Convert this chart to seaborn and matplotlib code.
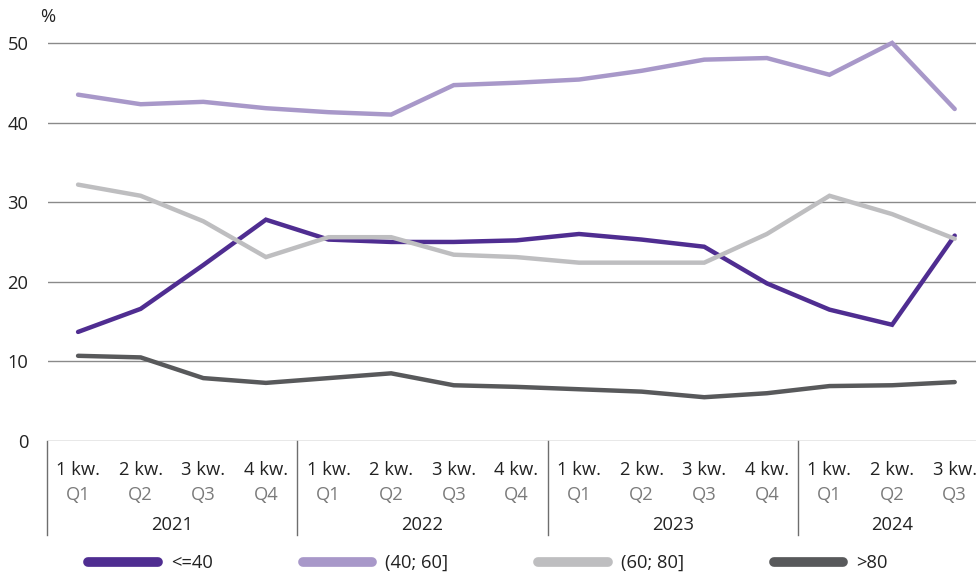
import pandas as pd
import seaborn as sns
import matplotlib.pyplot as plt

# quarters 2021 Q1 .. 2024 Q3
years = ["2021", "2022", "2023", "2024"]
quarters_pl = ["1 kw.", "2 kw.", "3 kw.", "4 kw."]
quarters_en = ["Q1", "Q2", "Q3", "Q4"]
n_per_year = [4, 4, 4, 3]

series_names = ["<=40", "(40; 60]", "(60; 80]", ">80"]
le_40 = [13.7, 16.6, 22.1, 27.8, 25.3, 25.0, 25.0, 25.2, 26.0, 25.3, 24.4, 19.8, 16.5, 14.6, 25.8]
r40_60 = [43.5, 42.3, 42.6, 41.8, 41.3, 41.0, 44.7, 45.0, 45.4, 46.5, 47.9, 48.1, 46.0, 50.0, 41.7]
r60_80 = [32.2, 30.8, 27.6, 23.1, 25.6, 25.6, 23.4, 23.1, 22.4, 22.4, 22.4, 26.0, 30.8, 28.5, 25.4]
gt_80 = [10.7, 10.5, 7.9, 7.3, 7.9, 8.5, 7.0, 6.8, 6.5, 6.2, 5.5, 6.0, 6.9, 7.0, 7.4]

colors = ["#4F2D91", "#A898C9", "#BEBEC0", "#58595B"]

plt.rcParams["font.family"] = ["Open Sans", "DejaVu Sans"]
FS = 13.2

rows = []
for name, vals in zip(series_names, [le_40, r40_60, r60_80, gt_80]):
    for i, v in enumerate(vals):
        rows.append({"idx": i, "value": v, "group": name})
df = pd.DataFrame(rows)

fig = plt.figure(figsize=(9.76, 5.72), dpi=100)
ax = fig.add_axes([48 / 976, 1 - 441 / 572, 1 - 48 / 976, 414 / 572])

sns.lineplot(data=df, x="idx", y="value", hue="group", palette=colors,
             hue_order=series_names, linewidth=3.2, ax=ax, legend=True)
for ln in ax.lines:
    ln.set_solid_capstyle("round")
    ln.set_solid_joinstyle("miter")

ax.set_xlim(-0.48, 14.34)
ax.set_ylim(0, 52)
ax.set_yticks([0, 10, 20, 30, 40, 50])
for y in [0, 10, 20, 30, 40, 50]:
    ax.axhline(y, color="#8A8A8A", linewidth=1.0, zorder=0)
for s in ax.spines.values():
    s.set_visible(False)
ax.tick_params(axis="y", length=0, labelsize=FS, colors="#222222", pad=14)
ax.set_xticks([])
ax.set_xlabel("")
ax.set_ylabel("")
ax.text(0.0, 1.024, "%", transform=ax.transAxes, fontsize=FS, color="#222222",
        ha="center", va="center")

# category axis labels
tr = ax.get_xaxis_transform()
pos = 0
bounds = [-0.5]
for yr, n in zip(years, n_per_year):
    for q in range(n):
        ax.text(pos + q, -0.07, quarters_pl[q], transform=tr, ha="center", va="center",
                fontsize=FS, color="#222222", clip_on=False)
        ax.text(pos + q, -0.13, quarters_en[q], transform=tr, ha="center", va="center",
                fontsize=FS, color="#7A7A7A", clip_on=False)
    ax.text(pos + (n - 1) / 2, -0.203, yr, transform=tr, ha="center", va="center",
            fontsize=FS, color="#222222", clip_on=False)
    pos += n
    bounds.append(pos - 0.5)
for b in bounds[:-1]:
    ax.plot([b, b], [0, -0.227], transform=tr, color="#6E6E6E", linewidth=1.0, clip_on=False)

handles, labels = ax.get_legend_handles_labels()
ax.get_legend().remove()
for h in handles:
    h.set_linewidth(7)
    h.set_solid_capstyle("round")
fig.legend(handles, labels, loc="center", bbox_to_anchor=(0.5, 1 - 563 / 572),
           ncol=4, frameon=False, fontsize=FS, handlelength=3.8, handletextpad=0.7,
           columnspacing=4.9, labelcolor="#222222")

fig.savefig("out.png", dpi=100)
